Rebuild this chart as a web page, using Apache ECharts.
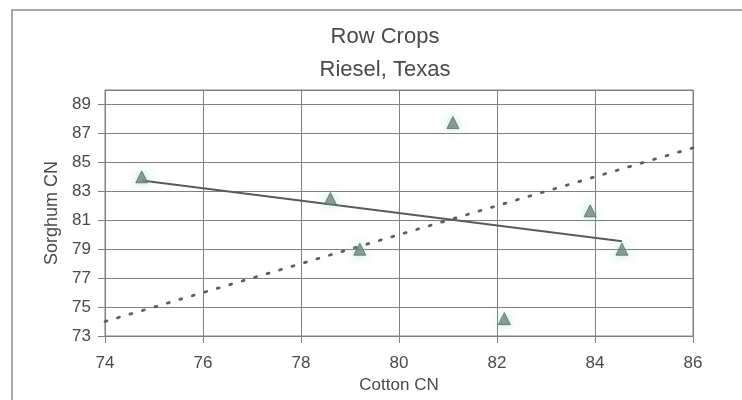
<!DOCTYPE html>
<html>
<head>
<meta charset="utf-8">
<style>
  html, body { margin: 0; padding: 0; background: #ffffff; }
  #chart { width: 742px; height: 400px; }
</style>
<script src="https://cdn.jsdelivr.net/npm/echarts@6/dist/echarts.min.js"></script>
</head>
<body>
<div id="chart"></div>
<script>
// Curve numbers for paired plots: cotton (x) against sorghum (y)
const cottonCN  = [74.75, 78.6, 79.2, 81.1, 82.15, 83.9, 84.55];
const sorghumCN = [84.0, 82.5, 79.0, 87.75, 74.2, 81.65, 79.0];

// Fitted trend line end points (solid) and the 1:1 reference line (dotted)
const trendX = [74.75, 84.55];
const trendY = [83.75, 79.55];
const oneToOneX = [74, 86];
const oneToOneY = [74, 86];

// Axis ranges and steps
const xRange = [74, 86];
const yRange = [73, 90];
const xStep = 2;
const yStep = 2;

const titleLines = ['Row Crops', 'Riesel, Texas'];
const xName = 'Cotton CN';
const yName = 'Sorghum CN';

const pairs = (xs, ys) => xs.map((x, i) => [x, ys[i]]);

const FONT = '"Liberation Sans", Arial, sans-serif';
const TEXT = '#4a4a4a';
const GRID = '#808080';

const chart = echarts.init(document.getElementById('chart'), null, { renderer: 'canvas' });

chart.setOption({
  backgroundColor: '#ffffff',
  animation: false,
  title: {
    text: titleLines.join('\n'),
    left: 385,
    top: 20,
    textAlign: 'center',
    padding: 0,
    textStyle: {
      fontFamily: FONT,
      fontSize: 22,
      fontWeight: 'normal',
      color: TEXT,
      lineHeight: 33
    }
  },
  graphic: [{
    type: 'rect',
    shape: { x: 12, y: 10, width: 760, height: 420 },
    style: { fill: 'none', stroke: '#8c8c8c', lineWidth: 1.5 },
    silent: true,
    z: -1
  }],
  grid: {
    left: 105,
    right: 49,
    top: 90,
    bottom: 64,
    show: true,
    borderColor: GRID,
    borderWidth: 1
  },
  xAxis: {
    type: 'value',
    min: xRange[0],
    max: xRange[1],
    interval: xStep,
    name: xName,
    nameLocation: 'middle',
    nameGap: 40,
    nameTextStyle: { fontFamily: FONT, fontSize: 17, color: TEXT },
    axisLine: { show: true, lineStyle: { color: GRID, width: 1 } },
    axisTick: { show: true, inside: false, length: 7, lineStyle: { color: GRID } },
    axisLabel: { fontFamily: FONT, fontSize: 17, color: TEXT, margin: 19 },
    splitLine: { show: true, lineStyle: { color: GRID, width: 1 } }
  },
  yAxis: {
    type: 'value',
    min: yRange[0],
    max: yRange[1],
    interval: yStep,
    name: yName,
    nameLocation: 'middle',
    nameGap: 43,
    nameTextStyle: { fontFamily: FONT, fontSize: 18, color: TEXT },
    axisLine: { show: true, lineStyle: { color: GRID, width: 1 } },
    axisTick: { show: true, inside: false, length: 7, lineStyle: { color: GRID } },
    axisLabel: { fontFamily: FONT, fontSize: 17, color: TEXT, margin: 14, showMaxLabel: false },
    splitLine: { show: true, lineStyle: { color: GRID, width: 1 } }
  },
  series: [
    {
      name: '1:1',
      type: 'line',
      data: pairs(oneToOneX, oneToOneY),
      symbol: 'none',
      lineStyle: { color: '#5e5e5e', width: 2.8, type: [2, 11], cap: 'round' },
      z: 2
    },
    {
      name: 'Trend',
      type: 'line',
      data: pairs(trendX, trendY),
      symbol: 'none',
      lineStyle: { color: '#575c5b', width: 2 },
      z: 3
    },
    {
      name: 'Row crops',
      type: 'scatter',
      data: pairs(cottonCN, sorghumCN),
      symbol: 'triangle',
      symbolSize: 12,
      itemStyle: {
        color: '#70807b',
        borderColor: '#5f6c68',
        borderWidth: 1,
        shadowBlur: 8,
        shadowColor: 'rgba(110, 215, 185, 0.65)'
      },
      z: 4
    }
  ]
});
</script>
</body>
</html>
